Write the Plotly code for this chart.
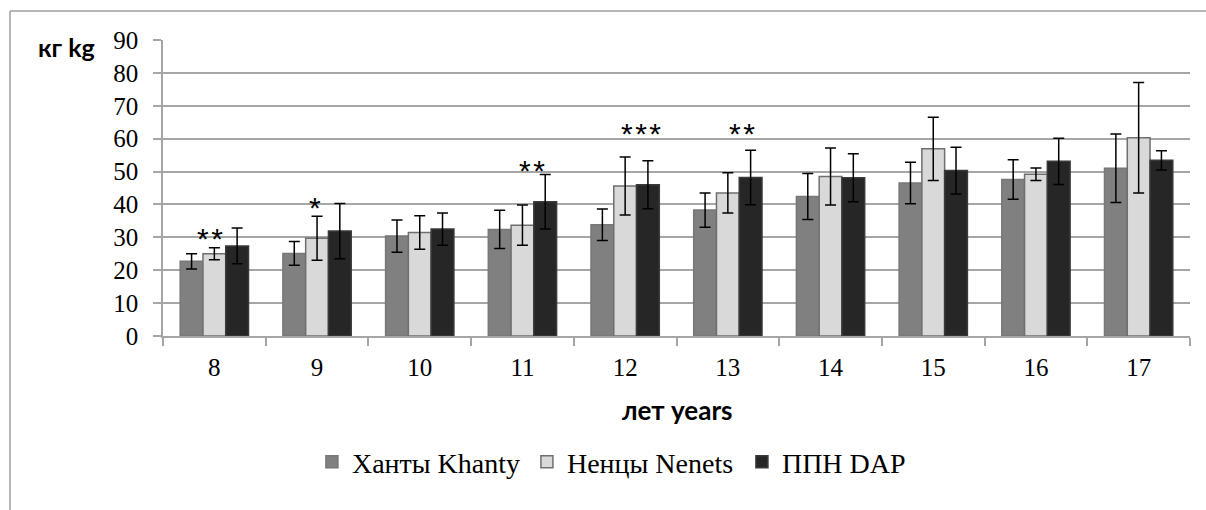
import plotly.graph_objects as go

ages = ["8", "9", "10", "11", "12", "13", "14", "15", "16", "17"]
khanty = [22.7, 25.1, 30.4, 32.4, 33.8, 38.3, 42.4, 46.5, 47.6, 51.0]
khanty_sd = [2.3, 3.6, 4.9, 5.8, 4.8, 5.2, 7.0, 6.3, 6.0, 10.4]
nenets = [25.0, 29.7, 31.5, 33.7, 45.6, 43.5, 48.5, 56.9, 49.2, 60.3]
nenets_sd = [1.8, 6.7, 5.1, 6.1, 8.8, 6.1, 8.7, 9.6, 1.9, 16.8]
dap = [27.4, 31.9, 32.5, 40.8, 46.0, 48.2, 48.1, 50.3, 53.1, 53.4]
dap_sd = [5.4, 8.4, 4.9, 8.3, 7.3, 8.3, 7.3, 7.1, 7.0, 2.9]

series_names = ["Ханты Khanty", "Ненцы Nenets", "ППН DAP"]

sig_age = ["8", "9", "11", "12", "13"]
sig_text = ["**", "*", "**", "***", "**"]
sig_y = [32.1, 41.6, 52.9, 64.1, 64.1]
sig_shift = [-4, -2, 10, 16, 14]

y_ticks = [0, 10, 20, 30, 40, 50, 60, 70, 80, 90]

SERIF = "Liberation Serif"
GRID = "#a6a6a6"

fig = go.Figure()
styles = [
    ("#808080", "#777777"),
    ("#d9d9d9", "#6f6f6f"),
    ("#262626", "#3a3a3a"),
]
for name, vals, sd, (fill, edge) in zip(series_names, [khanty, nenets, dap],
                                        [khanty_sd, nenets_sd, dap_sd], styles):
    fig.add_trace(go.Bar(
        x=ages, y=vals, name=name,
        marker=dict(color=fill, line=dict(color=edge, width=1.5)),
        error_y=dict(type="data", array=sd, visible=True, color="black",
                     thickness=1.5, width=5.5),
    ))

for a, t, yv, sh in zip(sig_age, sig_text, sig_y, sig_shift):
    fig.add_annotation(x=ages.index(a), y=yv, text="\u200a".join(t), showarrow=False,
                       xshift=sh, yshift=-8, yanchor="middle",
                       font=dict(family="Liberation Sans", size=30, color="#000000"))

# axis titles
fig.add_annotation(xref="paper", yref="paper", x=-0.0944, y=0.976, text="<b>кг kg</b>",
                   showarrow=False, xanchor="center", yanchor="middle",
                   font=dict(family="Lato", size=25, color="black"))
fig.add_annotation(xref="paper", yref="paper", x=0.5, y=-0.25, text="<b>лет years</b>",
                   showarrow=False, xanchor="center", yanchor="middle",
                   font=dict(family="Lato", size=26, color="black"))

# chart-area frame (top and left edges)
fig.add_shape(type="line", xref="paper", yref="paper", x0=-0.149, x1=1.02, y0=1.098, y1=1.098,
              line=dict(color="#a0a0a0", width=1.5))
fig.add_shape(type="line", xref="paper", yref="paper", x0=-0.149, x1=-0.149, y0=1.098, y1=-0.6,
              line=dict(color="#a0a0a0", width=1.5))

fig.update_layout(
    width=1206, height=510,
    margin=dict(l=163, r=16, t=40, b=174),
    paper_bgcolor="white", plot_bgcolor="white",
    barmode="group", bargap=0.335, bargroupgap=0,
    showlegend=True,
    legend=dict(orientation="h", x=0.145, xanchor="left", y=-0.4257, yanchor="middle",
                font=dict(family=SERIF, size=28, color="black"),
                itemwidth=30, entrywidth=170, traceorder="normal"),
    xaxis=dict(type="category", range=[-0.5, 9.5], showline=True, linecolor=GRID, linewidth=1.5,
               ticks="outside", tickson="boundaries", ticklen=8, tickcolor=GRID, tickwidth=1.5,
               ticklabelstandoff=8,
               tickfont=dict(family=SERIF, size=25, color="black"), showgrid=False),
    yaxis=dict(range=[0, 90], tickvals=y_ticks, showline=True, linecolor=GRID, linewidth=1.5,
               ticks="outside", ticklen=8, tickcolor=GRID, tickwidth=1.5,
               showgrid=True, gridcolor=GRID, gridwidth=1.5, zeroline=False,
               ticklabelstandoff=10,
               tickfont=dict(family=SERIF, size=25, color="black")),
)

fig.write_html("out.html")
